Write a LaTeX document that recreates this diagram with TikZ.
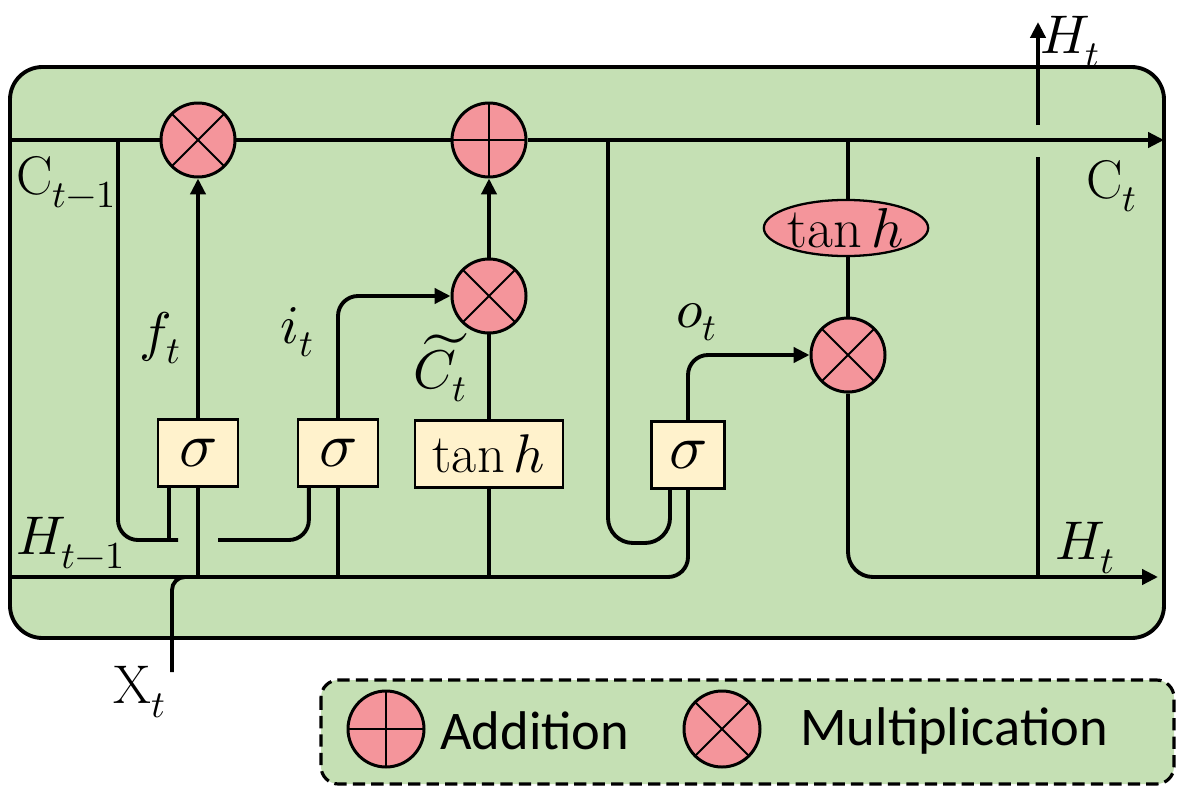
\documentclass[tikz,border=0pt]{standalone}
\usepackage{unicode-math}
\newfontfamily\legendfont{Carlito}
\usetikzlibrary{arrows.meta, shapes.geometric}

\definecolor{cellgreen}{HTML}{C5E0B4}
\definecolor{oppink}{HTML}{F4959B}
\definecolor{gateyellow}{HTML}{FFF2CC}

\begin{document}
\begin{tikzpicture}[x=0.2mm, y=-0.2mm,
  WireStyle/.style={line width=2.2pt},
  ArrowStyle/.style={WireStyle, -{Triangle[length=9pt,width=8.5pt]}},
  OpStyle/.style={shape=circle, draw=black, line width=1.7pt, fill=oppink,
    minimum size=14.8mm, inner sep=0pt},
  MulStyle/.style={OpStyle, path picture={
    \draw[line width=1.1pt] (path picture bounding box.south west) -- (path picture bounding box.north east)
      (path picture bounding box.north west) -- (path picture bounding box.south east);}},
  AddStyle/.style={OpStyle, path picture={
    \draw[line width=1.1pt] (path picture bounding box.north) -- (path picture bounding box.south)
      (path picture bounding box.west) -- (path picture bounding box.east);}},
  GateStyle/.style={shape=rectangle, draw=black, line width=1.3pt, fill=gateyellow,
    minimum height=13.4mm, minimum width=16mm, inner sep=0pt, font=\fontsize{36}{40}\selectfont},
  LabelStyle/.style={inner sep=0pt, font=\fontsize{31}{35}\selectfont},
  LegendText/.style={inner sep=0pt, anchor=west, font=\legendfont\fontsize{31}{36}\selectfont}]
  \useasboundingbox (0,0) rectangle (1181,789);
  % cell and legend frames
  \draw[fill=cellgreen, line width=2.2pt, rounded corners=6.5mm] (10,67) rectangle (1164,638);
  \draw[fill=cellgreen, line width=1.8pt, dash pattern=on 7pt off 3.5pt, rounded corners=3.5mm] (321,680) rectangle (1174,784);

  % pointwise operations
  \node[MulStyle] (m0) at (198,140) {};          % forget gate product
  \node[AddStyle] (p0) at (489,140) {};          % cell state sum
  \node[MulStyle] (m1) at (489,296) {};          % input gate product
  \node[MulStyle] (m2) at (848,355) {};          % output gate product
  \node[shape=ellipse, draw=black, line width=1.3pt, fill=oppink, minimum width=30mm,
    minimum height=9.4mm, inner sep=0pt, font=\fontsize{32}{36}\selectfont] (th) at (846,228) {$\tan h$};

  % gates
  \node[GateStyle] (g0) at (198,453) {$\sigma$};
  \node[GateStyle] (g1) at (338,453) {$\sigma$};
  \node[GateStyle, minimum width=29.6mm, font=\fontsize{31}{35}\selectfont] (g2) at (489,454) {$\tan h$};
  \node[GateStyle, minimum width=14.6mm] (g3) at (688,455) {$\sigma$};

  % free ends
  \coordinate (cIn) at (10,140);
  \coordinate (cOut) at (1164,140);
  \coordinate (hIn) at (10,577);
  \coordinate (hOut) at (1158,577);
  \coordinate (xIn) at (172,672);
  \coordinate (hUp) at (1038,22);
  \coordinate (j0) at (178,540);
  \coordinate (j1) at (218,540);
  \coordinate (j2) at (670,543);

  % cell state line
  \draw[WireStyle] (cIn) -- (m0) -- (p0);
  \draw[ArrowStyle] (p0) -- (cOut);
  \draw[WireStyle, rounded corners=4mm] (118,140) |- (j0);
  \draw[WireStyle] ([xshift=2.4mm]g0.south west) -- ([xshift=2.4mm]g0.south west |- j0);
  \draw[WireStyle, rounded corners=4mm] (j1) -| ([xshift=2.4mm]g1.south west);
  \draw[WireStyle, rounded corners=5mm] (608,140) |- (j2) -- (j2 |- g3.south);

  % hidden state and input
  \draw[WireStyle, rounded corners=4mm] (hIn) -| (g3.south);
  \draw[WireStyle, rounded corners=2.6mm] (xIn) |- (g0.south |- hIn);
  \foreach \g in {g0,g1,g2}
    \draw[WireStyle] (\g.south) -- (\g.south |- hIn);

  % gate outputs
  \draw[ArrowStyle] (g0) -- (m0);
  \draw[ArrowStyle, rounded corners=4mm] (g1.north) |- (m1);
  \draw[WireStyle] (g2) -- (m1);
  \draw[ArrowStyle] (m1) -- (p0);
  \draw[ArrowStyle, rounded corners=4mm] (g3.north) |- (m2);
  \draw[WireStyle] (m2 |- cIn) -- (m2 |- th.north);
  \draw[WireStyle] (m2 |- th.south) -- (m2);
  \draw[ArrowStyle, rounded corners=5mm] (m2) |- (hOut);
  \draw[WireStyle] (hUp |- hIn) -- (1038,157);
  \draw[ArrowStyle] (1038,125) -- (hUp);

  % labels
  \node[LabelStyle, anchor=west] (lc0) at (16,182) {$\mathrm{C}_{t-1}$};
  \node[LabelStyle, anchor=west] (lh0) at (16,543) {$H_{t-1}$};
  \node[LabelStyle] (lx) at (140,692) {$\mathrm{X}_t$};
  \node[LabelStyle] (lf) at (160,338) {$f_t$};
  \node[LabelStyle] (li) at (297,332) {$i_t$};
  \node[LabelStyle] (lct) at (440,368) {$\widetilde{C}_t$};
  \node[LabelStyle] (lo) at (697,322) {$o_t$};
  \node[LabelStyle] (lc1) at (1112,186) {$\mathrm{C}_t$};
  \node[LabelStyle] (lh1) at (1085,548) {$H_t$};
  \node[LabelStyle] (lh2) at (1070,42) {$H_t$};

  % legend
  \node[AddStyle, minimum size=15.2mm] (ladd) at (386,729) {};
  \node[LegendText] (tadd) at (440,731) {Addition};
  \node[MulStyle, minimum size=15.2mm] (lmul) at (722,729) {};
  \node[LegendText] (tmul) at (800,731) {Multiplication};
\end{tikzpicture}
\end{document}
